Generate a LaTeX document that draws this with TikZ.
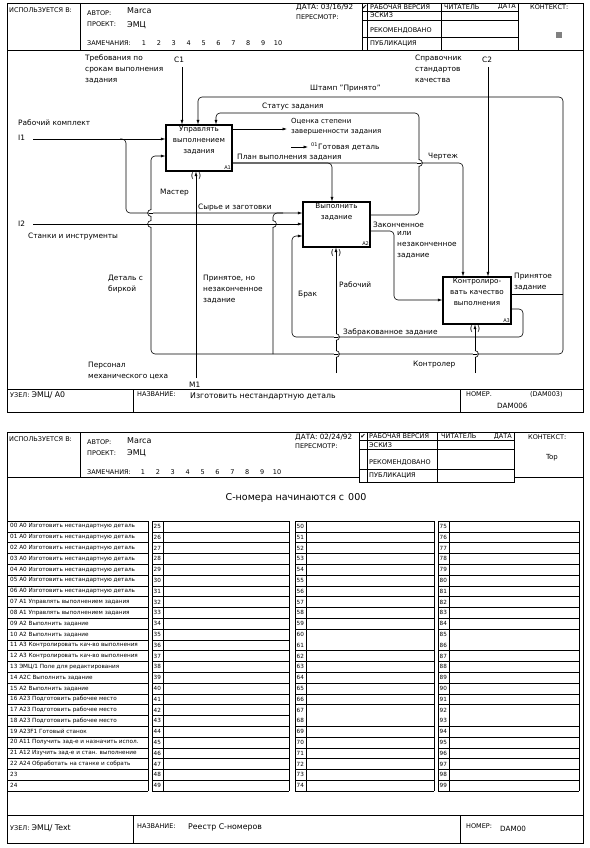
\documentclass[tikz,border=0pt]{standalone}
\usepackage{fontspec}
\setmainfont{DejaVu Sans}
\usetikzlibrary{arrows.meta}
\newcommand\fsz[2]{\fontsize{#1}{#2}\selectfont}
% bridge of a vertical line over a horizontal one
\newcommand\hopr[2]{\fill[white] (#1-1.6,#2-3.4) rectangle (#1+1.6,#2+3.4);
  \draw[line width=0.6pt] (#1-2,#2) -- (#1+2,#2);
  \draw[line width=0.6pt] (#1,#2-3.4) arc[start angle=90,end angle=-90,radius=3.4pt];}
\newcommand\hopl[2]{\fill[white] (#1-1.6,#2-3.4) rectangle (#1+1.6,#2+3.4);
  \draw[line width=0.6pt] (#1-2,#2) -- (#1+2,#2);
  \draw[line width=0.6pt] (#1,#2-3.4) arc[start angle=90,end angle=270,radius=3.4pt];}
\tikzset{
  form/.style={line width=0.9pt},
  rule/.style={line width=0.6pt},
  hcap/.style={font=\fsz{6.5}{7}, inner sep=0pt, anchor=west},
  val/.style={font=\fsz{8}{9}, inner sep=0pt, anchor=west},
  lbl/.style={font=\fsz{7.4}{11}, inner sep=0pt, anchor=west, align=left},
  lblm/.style={lbl, anchor=north west},
  fn/.style={font=\fsz{5}{6}, inner sep=1.5pt},
  func/.style={draw, line width=1.1pt, minimum width=66pt, minimum height=46pt, inner sep=0pt},
  functext/.style={font=\fsz{7.2}{11}, align=center, inner sep=0pt, anchor=north},
  flow/.style={line width=0.6pt, rounded corners=4pt},
  arr/.style={flow, -{Latex[length=4.5pt,width=3pt]}},
  tun/.style={font=\fsz{8}{8}, inner sep=0pt},
  cell/.style={font=\fsz{5.7}{6}, inner sep=0pt, anchor=west},
}
\begin{document}
\begin{tikzpicture}[x=1pt,y=-1pt]
\useasboundingbox (0,0) rectangle (589,848);

%% ---------------- upper form ----------------
\draw[form] (7,3) rectangle (583,412);
\draw[form] (7,50) -- (583,50);
\draw[form] (80,3) -- (80,50);
\draw[rule] (362,3) -- (362,50) (367,3) -- (367,50) (441,3) -- (441,50) (518,3) -- (518,50);
\draw[rule] (362,11) -- (518,11) (362,20) -- (518,20) (362,37) -- (518,37);
\draw[form] (7,389) -- (583,389) (133,389) -- (133,412) (460,389) -- (460,412);

\node[hcap] at (9,10) {ИСПОЛЬЗУЕТСЯ В:};
\node[hcap] at (87,13) {АВТОР:};
\node[val] at (127,11) {Marca};
\node[hcap] at (87,24) {ПРОЕКТ:};
\node[val] at (127,25) {ЭМЦ};
\node[hcap] at (87,43) {ЗАМЕЧАНИЯ:};
\foreach \n [count=\k from 0] in {1,...,10}
  \node[hcap, anchor=center] at ({144+14.9*\k},43) {\n};
\node[hcap, font=\fsz{7.2}{8}] at (296,7) {ДАТА: 03/16/92};
\node[hcap] at (296,17) {ПЕРЕСМОТР:};
\node[inner sep=0pt, font=\fsz{6.5}{6}] at (364.5,7) {✔};
\node[hcap] at (370,7) {РАБОЧАЯ ВЕРСИЯ};
\node[hcap] at (370,15.5) {ЭСКИЗ};
\node[hcap] at (370,31) {РЕКОМЕНДОВАНО};
\node[hcap] at (370,43.5) {ПУБЛИКАЦИЯ};
\node[hcap] at (444,7) {ЧИТАТЕЛЬ};
\node[hcap, anchor=east] at (516,7) {ДАТА};
\node[hcap] at (530,7) {КОНТЕКСТ:};
\fill[gray] (556,32) rectangle (562,38);

\node[hcap] at (10,395) {УЗЕЛ: {\fsz{7.8}{8}ЭМЦ/ A0}};
\node[hcap] at (137,394) {НАЗВАНИЕ:};
\node[val, font=\fsz{7.8}{8}] at (190,396) {Изготовить нестандартную деталь};
\node[hcap] at (466,394) {НОМЕР.};
\node[hcap] at (530,394) {(DAM003)};
\node[val, font=\fsz{7.2}{8}] at (497,406) {DAM006};

%% functions
\node[func] (A1) at (199,148) {};
\node[func, minimum width=67pt, minimum height=45pt] (A2) at (336.5,224.5) {};
\node[func, minimum width=68pt, minimum height=47pt] (A3) at (477,300.5) {};
\node[functext] at ([yshift=-2pt]A1.north) {Управлять\\выполнением\\задания};
\node[functext] at ([yshift=-2pt]A2.north) {Выполнить\\задание};
\node[functext] at ([yshift=-2pt]A3.north) {Контролиро-\\вать качество\\выполнения};
\node[fn, anchor=south east] at (A1.south east) {A1};
\node[fn, anchor=south east] at (A2.south east) {A2};
\node[fn, anchor=south east] at (A3.south east) {A3};

%% boundary points
\coordinate (I1) at (33,139);
\coordinate (I2) at (33,224);
\coordinate (C1) at (182,67);
\coordinate (C2) at (488,67);
\coordinate (M1) at (196,378);
\coordinate (m2) at (336,373);
\coordinate (m3) at (475,373);
\coordinate (O1) at (308,147);
\coordinate (o1a) at (291,147);
\coordinate (oc) at (287,129);

%% helper points
\coordinate (s1) at (126,213);
\coordinate (d1) at (151,156);
\coordinate (o3) at (563,294);
\coordinate (k1) at (198,97);
\coordinate (z3) at (523,309);
\coordinate (b2) at (292,236);
\coordinate (s2) at (419,215);
\coordinate (s3) at (216,113);
\coordinate (p1) at (332,163);
\coordinate (ch) at (463,163);
\coordinate (z1) at (394,231);
\coordinate (z2) at (394,300);

%% inputs
\draw[arr] (I1) -- (I1 -| A1.west);
\draw[arr] (120,139) -| (s1) -- (s1 -| A2.west);
\draw[arr] (I2) -- (I2 -| A2.west);
%% controls
\draw[arr] (C1) -- (C1 |- A1.north);
\draw[arr] (C2) -- (C2 |- A3.north);
%% mechanisms
\draw[arr] (M1) -- (M1 |- A1.south);
\draw[arr] (m2) -- (m2 |- A2.south);
\draw[arr] (m3) -- (m3 |- A3.south);
\node[tun] at (196,176) {(\hspace{4pt})};
\node[tun] at (336,253) {(\hspace{4pt})};
\node[tun] at (475,329) {(\hspace{4pt})};
%% outputs of A1
\draw[arr] (oc -| A1.east) -- (oc);
\draw[arr] (o1a) -- (O1);
\draw[arr] (p1 -| A1.east) -| (A2.north -| p1);
\draw[arr] (p1 -| A1.east) -| (A3.north -| ch);
%% outputs of A2
\draw[arr] (s2 -| A2.east) -- (s2) |- (s3) -- (s3 |- A1.north);
\draw[arr] (z1 -| A2.east) -| (z2) -- (z2 -| A3.west);
%% outputs of A3
\draw[flow] (o3 -| A3.east) -- (o3);
\draw[arr] (o3) |- (k1) -- (k1 |- A1.north);
\draw[arr] (o3) |- (151,354) |- (d1 -| A1.west);
\draw[flow] (273,354) |- (283,213);
\draw[arr] (z3 -| A3.east) -| (523,337) -| (b2) -- (b2 -| A2.west);

%% bridges
\hopl{151}{213}
\hopl{151}{224}
\hopr{273}{224}
\hopr{419}{163}
\hopr{336}{337}
\hopr{336}{354}
\hopr{475}{354}

%% labels
\node[lblm] at (85,55) {Требования по\\срокам выполнения\\задания};
\node[lbl] at (174,60) {C1};
\node[lbl] at (18,123) {Рабочий комплект};
\node[lbl] at (18,138) {I1};
\node[lbl] at (310,89) {Штамп "Принято"};
\node[lbl] at (262,107) {Статус задания};
\node[lblm] at (415,55) {Справочник\\стандартов\\качества};
\node[lbl] at (482,60) {C2};
\node[lblm, font=\fsz{7}{10}] at (291,118) {Оценка степени\\завершенности задания};
\node[fn, anchor=west, inner sep=0pt] at (311,145) {01};
\node[lbl] at (318,147) {Готовая деталь};
\node[lbl] at (237,157) {План выполнения задания};
\node[lbl] at (428,157) {Чертеж};
\node[lbl] at (160,193) {Мастер};
\node[lbl] at (198,208) {Сырье и заготовки};
\node[lbl] at (18,224) {I2};
\node[lbl] at (28,237) {Станки и инструменты};
\node[lbl] at (373,225) {Законченное};
\node[lblm] at (397,231) {или\\незаконченное\\задание};
\node[lblm] at (108,275) {Деталь с\\биркой};
\node[lblm] at (203,275) {Принятое, но\\незаконченное\\задание};
\node[lbl] at (298,295) {Брак};
\node[lbl] at (339,285) {Рабочий};
\node[lblm] at (514,273) {Принятое\\задание};
\node[lbl] at (343,332) {Забракованное задание};
\node[lbl] at (413,365) {Контролер};
\node[lblm] at (88,362) {Персонал\\механического цеха};
\node[lbl] at (189,385) {M1};

%% ---------------- lower form ----------------
\draw[form] (7,432) rectangle (583,843);
\draw[form] (7,477) -- (359,477) (514,477) -- (583,477);
\draw[form] (80,432) -- (80,477);
\draw[rule] (359,432) rectangle (514,482);
\draw[rule] (367,432) -- (367,482) (437,432) -- (437,482);
\draw[rule] (359,440.5) -- (514,440.5) (359,449.5) -- (514,449.5) (359,469) -- (514,469);
\draw[form] (7,815) -- (583,815) (133,815) -- (133,843) (460,815) -- (460,843);

\node[hcap] at (9,439) {ИСПОЛЬЗУЕТСЯ В:};
\node[hcap] at (87,442) {АВТОР:};
\node[val] at (127,441) {Marca};
\node[hcap] at (87,453) {ПРОЕКТ:};
\node[val] at (127,453) {ЭМЦ};
\node[hcap] at (87,472) {ЗАМЕЧАНИЯ:};
\foreach \n [count=\k from 0] in {1,...,10}
  \node[hcap, anchor=center] at ({143+14.9*\k},472) {\n};
\node[hcap, font=\fsz{7.2}{8}] at (295,437) {ДАТА: 02/24/92};
\node[hcap] at (295,446) {ПЕРЕСМОТР:};
\node[inner sep=0pt, font=\fsz{6.5}{6}] at (363,436.5) {✔};
\node[hcap] at (369,436.5) {РАБОЧАЯ ВЕРСИЯ};
\node[hcap] at (369,445) {ЭСКИЗ};
\node[hcap] at (369,463) {РЕКОМЕНДОВАНО};
\node[hcap] at (369,475.5) {ПУБЛИКАЦИЯ};
\node[hcap] at (441,436.5) {ЧИТАТЕЛЬ};
\node[hcap, anchor=east] at (512,436.5) {ДАТА};
\node[hcap] at (528,437) {КОНТЕКСТ:};
\node[val, font=\fsz{7}{8}, anchor=center] at (552,458) {Top};

\node[font=\fsz{9.5}{10}, inner sep=0pt] at (296,498) {С-номера начинаются с\hspace{4pt}000};

%% register table
\foreach \i in {0,...,25} {
  \draw[rule] (7,{521+10.8*\i}) -- (148,{521+10.8*\i})
              (152,{521+10.8*\i}) -- (289,{521+10.8*\i});
  \ifnum\i=11 \else \ifnum\i=18 \else
    \draw[rule] (295,{521+10.8*\i}) -- (434,{521+10.8*\i})
                (438,{521+10.8*\i}) -- (579,{521+10.8*\i});
  \fi\fi
}
\foreach \x in {148,152,163,289,295,306,434,438,449,579}
  \draw[rule] (\x,521) -- (\x,791);
\foreach \t [count=\i from 0] in {00 A0 Изготовить нестандартную деталь,
    01 A0 Изготовить нестандартную деталь, 02 A0 Изготовить нестандартную деталь,
    03 A0 Изготовить нестандартную деталь, 04 A0 Изготовить нестандартную деталь,
    05 A0 Изготовить нестандартную деталь, 06 A0 Изготовить нестандартную деталь,
    07 A1 Управлять выполнением задания, 08 A1 Управлять выполнением задания,
    09 A2 Выполнить задание, 10 A2 Выполнить задание,
    11 A3 Контролировать кач-во выполнения, 12 A3 Контролировать кач-во выполнения,
    13 ЭМЦ/1 Поле для редактирования, 14 A2C Выполнить задание,
    15 A2 Выполнить задание, 16 A23 Подготовить рабочее место,
    17 A23 Подготовить рабочее место, 18 A23 Подготовить рабочее место,
    19 A23F1 Готовый станок, 20 A11 Получить зад-е и назначить испол.,
    21 A12 Изучить зад-е и стан. выполнение, 22 A24 Обработать на станке и собрать,
    23, 24} {
  \node[cell] at (10,{521+10.8*\i+5.4}) {\t};
}
\foreach \i in {0,...,24} {
  \pgfmathtruncatemacro\na{25+\i}
  \pgfmathtruncatemacro\nb{50+\i}
  \pgfmathtruncatemacro\nc{75+\i}
  \node[cell] at (153.5,{521+10.8*\i+5.4}) {\na};
  \node[cell] at (296.5,{521+10.8*\i+5.4}) {\nb};
  \node[cell] at (439.5,{521+10.8*\i+5.4}) {\nc};
}

\node[hcap] at (10,828) {УЗЕЛ: {\fsz{7.8}{8}ЭМЦ/ Text}};
\node[hcap] at (137,826) {НАЗВАНИЕ:};
\node[val, font=\fsz{7.8}{8}] at (188,827) {Реестр С-номеров};
\node[hcap] at (466,826) {НОМЕР:};
\node[val, font=\fsz{7.2}{8}] at (500,829) {DAM00};
\end{tikzpicture}
\end{document}
